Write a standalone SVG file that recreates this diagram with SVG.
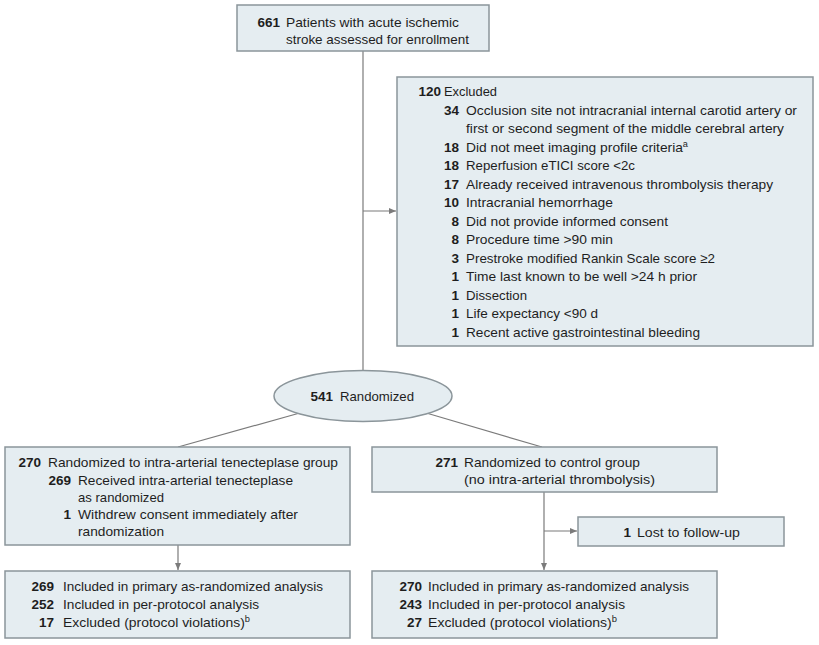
<svg xmlns="http://www.w3.org/2000/svg" width="819" height="645" viewBox="0 0 819 645">
<defs>
<marker id="arr" markerWidth="8" markerHeight="8" refX="7" refY="4" orient="auto" markerUnits="userSpaceOnUse">
<path d="M0,1 L7,4 L0,7 Z" fill="#7b7b7b"/>
</marker>
<style>
.box{fill:#e5edf1;stroke:#8b959a;stroke-width:1.5}
.t{font-family:"Liberation Sans",Arial,sans-serif;font-size:13.5px;fill:#1e1e1e}
.n{font-family:"Liberation Sans",Arial,sans-serif;font-size:13.5px;font-weight:bold;fill:#1e1e1e;text-anchor:end}
.c{fill:none;stroke:#7b7b7b;stroke-width:1.2}
.sup{font-size:9px}
</style>
</defs>
<rect width="819" height="645" fill="#ffffff"/>
<g id="connectors">
<line class="c" x1="363" y1="51" x2="363" y2="371"/>
<line class="c" x1="363" y1="211" x2="396" y2="211" marker-end="url(#arr)"/>
<line class="c" x1="298" y1="413.5" x2="178" y2="447"/>
<line class="c" x1="428" y1="413.5" x2="542" y2="447"/>
<line class="c" x1="178" y1="545" x2="178" y2="570" marker-end="url(#arr)"/>
<line class="c" x1="544" y1="492" x2="544" y2="570" marker-end="url(#arr)"/>
<line class="c" x1="544" y1="531" x2="577" y2="531" marker-end="url(#arr)"/>
</g>
<g id="assessed">
<rect class="box" x="237" y="5" width="252" height="46"/>
<text class="n" x="280" y="26.5">661</text>
<text class="t" x="286" y="26.5" textLength="173" lengthAdjust="spacingAndGlyphs">Patients with acute ischemic</text>
<text class="t" x="286" y="43.5" textLength="183" lengthAdjust="spacingAndGlyphs">stroke assessed for enrollment</text>
</g>
<g id="excluded">
<rect class="box" x="397" y="77" width="416" height="269"/>
<text class="n" x="441" y="96">120</text>
<text class="t" x="444" y="96" textLength="53" lengthAdjust="spacingAndGlyphs">Excluded</text>
<text class="n" x="459" y="114.5">34</text>
<text class="t" x="466" y="114.5" textLength="331" lengthAdjust="spacingAndGlyphs">Occlusion site not intracranial internal carotid artery or</text>
<text class="t" x="466" y="133" textLength="318" lengthAdjust="spacingAndGlyphs">first or second segment of the middle cerebral artery</text>
<text class="n" x="459" y="151.5">18</text>
<text class="t" x="466" y="151.5" textLength="222" lengthAdjust="spacingAndGlyphs">Did not meet imaging profile criteria<tspan class="sup" dy="-5">a</tspan></text>
<text class="n" x="459" y="170">18</text>
<text class="t" x="466" y="170" textLength="169" lengthAdjust="spacingAndGlyphs">Reperfusion eTICI score &lt;2c</text>
<text class="n" x="459" y="188.5">17</text>
<text class="t" x="466" y="188.5" textLength="307" lengthAdjust="spacingAndGlyphs">Already received intravenous thrombolysis therapy</text>
<text class="n" x="459" y="207">10</text>
<text class="t" x="466" y="207" textLength="147" lengthAdjust="spacingAndGlyphs">Intracranial hemorrhage</text>
<text class="n" x="459" y="225.5">8</text>
<text class="t" x="466" y="225.5" textLength="202" lengthAdjust="spacingAndGlyphs">Did not provide informed consent</text>
<text class="n" x="459" y="244">8</text>
<text class="t" x="466" y="244" textLength="147" lengthAdjust="spacingAndGlyphs">Procedure time &gt;90 min</text>
<text class="n" x="459" y="262.5">3</text>
<text class="t" x="466" y="262.5" textLength="249" lengthAdjust="spacingAndGlyphs">Prestroke modified Rankin Scale score ≥2</text>
<text class="n" x="459" y="281">1</text>
<text class="t" x="466" y="281" textLength="231" lengthAdjust="spacingAndGlyphs">Time last known to be well &gt;24 h prior</text>
<text class="n" x="459" y="299.5">1</text>
<text class="t" x="466" y="299.5" textLength="61" lengthAdjust="spacingAndGlyphs">Dissection</text>
<text class="n" x="459" y="318">1</text>
<text class="t" x="466" y="318" textLength="132" lengthAdjust="spacingAndGlyphs">Life expectancy &lt;90 d</text>
<text class="n" x="459" y="336.5">1</text>
<text class="t" x="466" y="336.5" textLength="234" lengthAdjust="spacingAndGlyphs">Recent active gastrointestinal bleeding</text>
</g>
<g id="randomized">
<ellipse class="box" cx="363" cy="396" rx="89" ry="25.5"/>
<text class="n" x="333" y="400.5">541</text>
<text class="t" x="340" y="400.5" textLength="74" lengthAdjust="spacingAndGlyphs">Randomized</text>
</g>
<g id="tenecteplase">
<rect class="box" x="5" y="447" width="345" height="98"/>
<text class="n" x="41" y="467">270</text>
<text class="t" x="48" y="467" textLength="290" lengthAdjust="spacingAndGlyphs">Randomized to intra-arterial tenecteplase group</text>
<text class="n" x="71" y="484.5">269</text>
<text class="t" x="78" y="484.5" textLength="215" lengthAdjust="spacingAndGlyphs">Received intra-arterial tenecteplase</text>
<text class="t" x="78" y="501.5" textLength="86" lengthAdjust="spacingAndGlyphs">as randomized</text>
<text class="n" x="71" y="519">1</text>
<text class="t" x="78" y="519" textLength="220" lengthAdjust="spacingAndGlyphs">Withdrew consent immediately after</text>
<text class="t" x="78" y="536" textLength="86" lengthAdjust="spacingAndGlyphs">randomization</text>
</g>
<g id="control">
<rect class="box" x="372" y="447" width="345" height="45"/>
<text class="n" x="458" y="467">271</text>
<text class="t" x="464" y="467" textLength="176" lengthAdjust="spacingAndGlyphs">Randomized to control group</text>
<text class="t" x="464" y="483.5" textLength="191" lengthAdjust="spacingAndGlyphs">(no intra-arterial thrombolysis)</text>
</g>
<g id="lost">
<rect class="box" x="578" y="517" width="206" height="29"/>
<text class="n" x="631" y="536.5">1</text>
<text class="t" x="637" y="536.5" textLength="103" lengthAdjust="spacingAndGlyphs">Lost to follow-up</text>
</g>
<g id="analysis-left">
<rect class="box" x="5" y="571" width="345" height="67"/>
<text class="n" x="54" y="590.5">269</text>
<text class="t" x="63" y="590.5" textLength="260" lengthAdjust="spacingAndGlyphs">Included in primary as-randomized analysis</text>
<text class="n" x="54" y="608.5">252</text>
<text class="t" x="63" y="608.5" textLength="196" lengthAdjust="spacingAndGlyphs">Included in per-protocol analysis</text>
<text class="n" x="54" y="627">17</text>
<text class="t" x="63" y="627" textLength="187" lengthAdjust="spacingAndGlyphs">Excluded (protocol violations)<tspan class="sup" dy="-5">b</tspan></text>
</g>
<g id="analysis-right">
<rect class="box" x="372" y="571" width="345" height="67"/>
<text class="n" x="422" y="590.5">270</text>
<text class="t" x="428" y="590.5" textLength="261" lengthAdjust="spacingAndGlyphs">Included in primary as-randomized analysis</text>
<text class="n" x="422" y="608.5">243</text>
<text class="t" x="428" y="608.5" textLength="197" lengthAdjust="spacingAndGlyphs">Included in per-protocol analysis</text>
<text class="n" x="422" y="627">27</text>
<text class="t" x="428" y="627" textLength="189" lengthAdjust="spacingAndGlyphs">Excluded (protocol violations)<tspan class="sup" dy="-5">b</tspan></text>
</g>
</svg>
